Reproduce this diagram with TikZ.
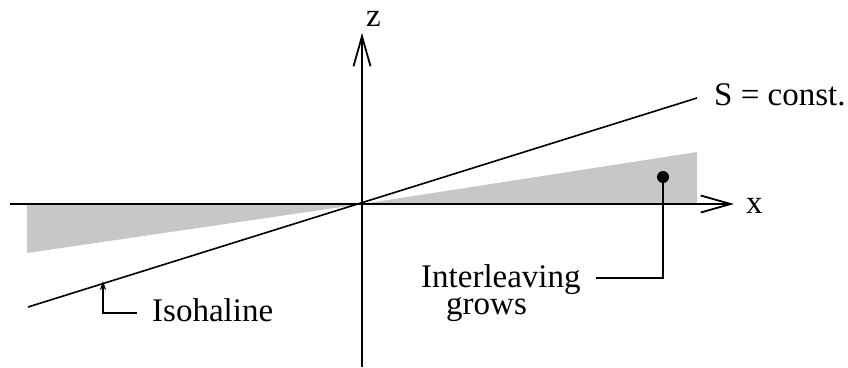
\documentclass[tikz,border=0pt]{standalone}
\usepackage{fontspec}
\setmainfont{Liberation Serif}
\usetikzlibrary{arrows.meta}
\begin{document}
\begin{tikzpicture}[x=1pt,y=-1pt,
  axis/.style={line width=1.8pt},
  thinline/.style={line width=1.6pt},
  shadefill/.style={fill=black!22},
  lab/.style={inner sep=0pt, anchor=base west, font=\fontsize{33}{38}\selectfont},
  bigtip/.style={-{Straight Barb[length=30pt,width=17pt,line width=1.8pt]}}]
\useasboundingbox (0,0) rectangle (848,367);
% shaded wedges
\fill[shadefill] (27,204) -- (362,204) -- (27,253) -- cycle;
\fill[shadefill] (362,204) -- (697,204) -- (697,152) -- cycle;
% axes
\coordinate (xs) at (10,204);
\coordinate (xe) at (734,204);
\coordinate (zs) at (362,367);
\coordinate (ze) at (362,33);
\draw[axis, bigtip] (xs) -- (xe);
\draw[axis, bigtip] (zs) -- (ze);
\node[lab] (xl) at (746,213) {x};
\node[lab] (zl) at (366,26) {z};
% isohaline line
\coordinate (s1) at (28,307);
\coordinate (s2) at (697,98);
\draw[thinline] (s1) -- (s2);
\node[lab] (sl) at (714,105) {S = const.};
% interleaving marker
\node[circle, fill=black, inner sep=0pt, minimum size=12pt] (dot) at (663,177) {};
\coordinate (ic) at (596,278);
\draw[thinline] (dot.center) |- (ic);
\node[lab] (inter) at (421,287) {Interleaving};
\node[lab] (grows) at (446,314) {grows};
% isohaline label
\coordinate (ia) at (103,281);
\coordinate (ib) at (137,313);
\draw[thinline, -{Stealth[length=9pt,width=6pt]}] (ib) -| (ia);
\node[lab] (iso) at (152,321) {Isohaline};
\end{tikzpicture}
\end{document}
